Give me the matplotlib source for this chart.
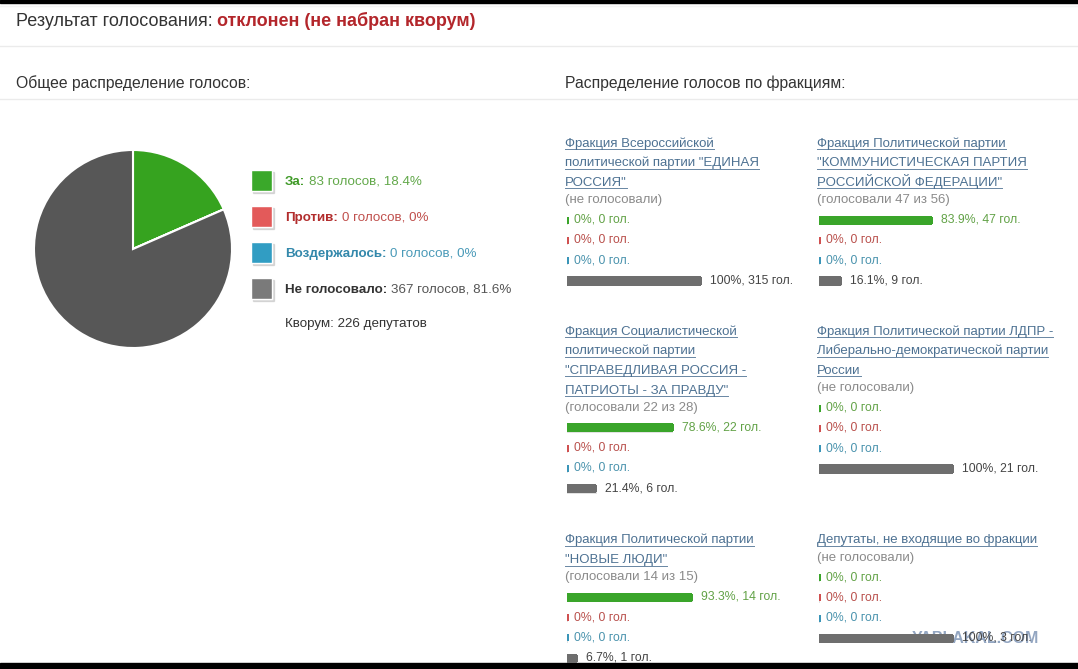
import numpy as np
import matplotlib
matplotlib.use('Agg')
import matplotlib.pyplot as plt
from matplotlib.patches import Rectangle

plt.rcParams['font.family'] = ['Liberation Sans', 'DejaVu Sans']

# overall vote
overall_labels = ['За:', 'Против:', 'Воздержалось:', 'Не голосовало:']
overall_votes = [83, 0, 0, 367]
overall_pct = ['18.4%', '0%', '0%', '81.6%']
quorum = 226

# factions (title lines, status, pct and votes for за / против / воздерж. / не голос.)
faction_titles = [
    ['Фракция Всероссийской', 'политической партии "ЕДИНАЯ', 'РОССИЯ"'],
    ['Фракция Политической партии', '"КОММУНИСТИЧЕСКАЯ ПАРТИЯ', 'РОССИЙСКОЙ ФЕДЕРАЦИИ"'],
    ['Фракция Социалистической', 'политической партии', '"СПРАВЕДЛИВАЯ РОССИЯ -', 'ПАТРИОТЫ - ЗА ПРАВДУ"'],
    ['Фракция Политической партии ЛДПР -', 'Либерально-демократической партии', 'России'],
    ['Фракция Политической партии', '"НОВЫЕ ЛЮДИ"'],
    ['Депутаты, не входящие во фракции'],
]
faction_status = ['(не голосовали)', '(голосовали 47 из 56)', '(голосовали 22 из 28)',
                  '(не голосовали)', '(голосовали 14 из 15)', '(не голосовали)']
faction_pct = [[0, 0, 0, 100], [83.9, 0, 0, 16.1], [78.6, 0, 0, 21.4],
               [0, 0, 0, 100], [93.3, 0, 0, 6.7], [0, 0, 0, 100]]
faction_votes = [[0, 0, 0, 315], [47, 0, 0, 9], [22, 0, 0, 6],
                 [0, 0, 0, 21], [14, 0, 0, 1], [0, 0, 0, 3]]

W, H = 1078, 669
fig = plt.figure(figsize=(W / 100, H / 100), dpi=100)
fig.patch.set_facecolor('white')
ax = fig.add_axes([0, 0, 1, 1])
ax.set_xlim(0, W)
ax.set_ylim(H, 0)
ax.axis('off')
renderer = fig.canvas.get_renderer()

pie_cols = ['#36a31f', '#e05454', '#2f9bc2', '#575757']
sq_cols = ['#3aa82a', '#e35a5a', '#319dc3', '#7a7a7a']
bold_cols = ['#3f9a27', '#b22d2d', '#3388ab', '#333333']
rest_cols = ['#62a84a', '#c0504d', '#4a9ab8', '#555555']
bar_cols = ['#3aa52a', '#d05050', '#3a95b8', '#6e6e6e']
row_cols = ['#62a247', '#b9504c', '#4a93ad', '#444444']
link_col = '#4d7192'


def put(x, y, parts, size, gap=3.8, underline=None):
    x0 = x
    for i, (txt, col, wt) in enumerate(parts):
        t = ax.text(x, y, txt, color=col, fontsize=size, fontweight=wt,
                    va='baseline', ha='left')
        x += t.get_window_extent(renderer).width
        if i < len(parts) - 1:
            x += gap
    if underline:
        ax.plot([x0, x], [y + 2.2, y + 2.2], color=underline, lw=0.7, alpha=0.85)
    return x


# frame bits
ax.add_patch(Rectangle((0, 0), W, 2.5, color='black', zorder=5))
ax.add_patch(Rectangle((0, 663), W, 6, color='black', zorder=5))
for yy in (45.5, 98.5):
    ax.plot([0, W], [yy, yy], color='#ebebeb', lw=1)
ax.plot([0, W], [6, 6], color='#f4f4f4', lw=1)

# headers
put(16, 26, [('Результат голосования:', '#333333', 'normal'),
             ('отклонен (не набран кворум)', '#b3262b', 'bold')], 13, gap=4.2)
ax.text(16, 88, 'Общее распределение голосов:', color='#333333', fontsize=11.3,
        va='baseline')
ax.text(565, 88, 'Распределение голосов по фракциям:', color='#333333', fontsize=11.3,
        va='baseline')

# pie
pax = fig.add_axes([33 / W, (H - 349) / H, 200 / W, 200 / H])
pax.pie(overall_votes, colors=pie_cols, startangle=90, counterclock=False,
        wedgeprops=dict(edgecolor='white', linewidth=1.5))
pax.set_xlim(-1.01, 1.01)
pax.set_ylim(-1.01, 1.01)

# legend for pie
for i, lab in enumerate(overall_labels):
    cy = 180.5 + i * 36
    ax.add_patch(Rectangle((252.5, cy - 9.0), 21, 21, color='#bbbbbb', alpha=0.5, zorder=2))
    ax.add_patch(Rectangle((251, cy - 10.5), 21, 21, facecolor=sq_cols[i],
                           edgecolor='white', lw=1, zorder=3))
    put(285, cy + 4.5, [(lab, bold_cols[i], 'bold'),
                        (f'{overall_votes[i]} голосов, {overall_pct[i]}', rest_cols[i], 'normal')],
        9.6)
ax.text(285, 327.5, f'Кворум: {quorum} депутатов', color='#333333', fontsize=9.6,
        va='baseline')

# factions
origins = [(565, 142), (817, 142), (565, 330), (817, 330), (565, 539), (817, 539)]
for k, (fx, fy) in enumerate(origins):
    lines = faction_titles[k]
    for j, ln in enumerate(lines):
        put(fx, fy + j * 19.8 + 4.5, [(ln, link_col, 'normal')], 9.5, underline=link_col)
    sy = fy + (len(lines) - 1) * 19.8 + 17
    ax.text(fx, sy + 4.5, faction_status[k], color='#8a8a8a', fontsize=9.5, va='baseline')
    r0 = sy + 21
    step = 20.3
    bw = 260
    bx = fx + 2
    bax = fig.add_axes([bx / W, (H - (r0 - 10.15 + 4 * step)) / H, bw / W, 4 * step / H])
    bax.set_xlim(0, bw / 133 * 100)
    bax.set_ylim(3.5, -0.5)
    bax.axis('off')
    rows = np.arange(4)
    pcts = faction_pct[k]
    # light shadow under each bar
    bax.barh(rows + 0.2, [p + 1.5 for p in pcts], left=-0.4, height=0.12,
             color='#e2e2e2', edgecolor='none')
    bax.barh(rows, pcts, height=0.3, color=bar_cols, edgecolor=bar_cols, linewidth=1.0,
             antialiased=False)
    for i in rows:
        bax.annotate(f'{pcts[i]:g}%, {faction_votes[k][i]} гол.', (pcts[i], i),
                     xytext=(7 if pcts[i] == 0 else 10, 0), textcoords='offset pixels',
                     va='center', ha='left', fontsize=8.8, color=row_cols[i])

# watermark
ax.text(912, 643, 'YAPLAKAL.COM', color='#6f88ad', fontsize=11.5, fontweight='bold',
        alpha=0.75, va='baseline', zorder=6)

fig.savefig('out.png', dpi=100, facecolor='white')
